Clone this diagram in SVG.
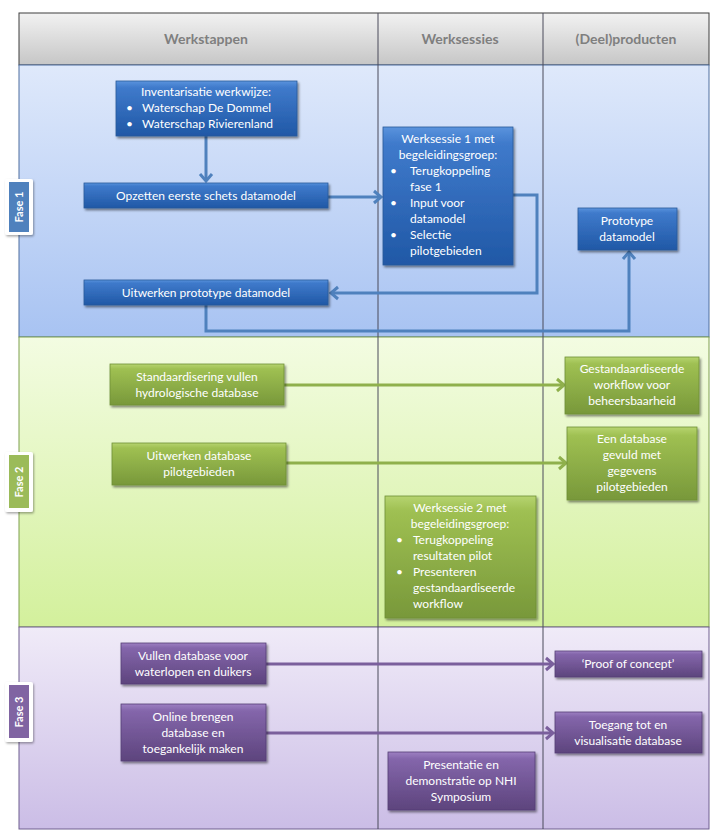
<svg xmlns="http://www.w3.org/2000/svg" width="720" height="839" viewBox="0 0 720 839">
<defs>
<linearGradient id="gHead" x1="0" y1="0" x2="0" y2="1"><stop offset="0" stop-color="#f2f2f2"/><stop offset="1" stop-color="#c6c6c6"/></linearGradient>
<linearGradient id="gP1" x1="0" y1="0" x2="0" y2="1"><stop offset="0" stop-color="#dfe9fb"/><stop offset="1" stop-color="#a8c3f2"/></linearGradient>
<linearGradient id="gP2" x1="0" y1="0" x2="0" y2="1"><stop offset="0" stop-color="#f3fce2"/><stop offset="1" stop-color="#d3f09c"/></linearGradient>
<linearGradient id="gP3" x1="0" y1="0" x2="0" y2="1"><stop offset="0" stop-color="#f0ebf8"/><stop offset="1" stop-color="#cbbde6"/></linearGradient>
<linearGradient id="gB" x1="0" y1="0" x2="0" y2="1"><stop offset="0" stop-color="#5a93dd"/><stop offset="0.12" stop-color="#3f7acb"/><stop offset="1" stop-color="#2058a6"/></linearGradient>
<linearGradient id="gG" x1="0" y1="0" x2="0" y2="1"><stop offset="0" stop-color="#b6d470"/><stop offset="0.12" stop-color="#9fc052"/><stop offset="1" stop-color="#78983a"/></linearGradient>
<linearGradient id="gV" x1="0" y1="0" x2="0" y2="1"><stop offset="0" stop-color="#9d80c2"/><stop offset="0.12" stop-color="#8466ab"/><stop offset="1" stop-color="#5d447d"/></linearGradient>
<filter id="sh" x="-10%" y="-10%" width="125%" height="135%"><feDropShadow dx="1.5" dy="2" stdDeviation="1.2" flood-color="#000" flood-opacity="0.45"/></filter>
<marker id="aB" markerUnits="userSpaceOnUse" markerWidth="14" markerHeight="16" refX="9" refY="8" orient="auto"><path d="M2,2 L9,8 L2,14" fill="none" stroke="#4f81bd" stroke-width="3"/></marker>
<marker id="aG" markerUnits="userSpaceOnUse" markerWidth="14" markerHeight="16" refX="9" refY="8" orient="auto"><path d="M2,2 L9,8 L2,14" fill="none" stroke="#8fb04c" stroke-width="3"/></marker>
<marker id="aV" markerUnits="userSpaceOnUse" markerWidth="14" markerHeight="16" refX="9" refY="8" orient="auto"><path d="M2,2 L9,8 L2,14" fill="none" stroke="#7a5f9c" stroke-width="3"/></marker>
<filter id="tsh" x="-20%" y="-10%" width="150%" height="130%"><feDropShadow dx="1" dy="1.5" stdDeviation="1" flood-color="#000" flood-opacity="0.35"/></filter>
</defs>
<style>
text{font-family:Lato,"Open Sans","Liberation Sans",sans-serif;font-size:12px;fill:#fff}
.c{text-anchor:middle}
.h{font-size:14px;font-weight:bold;fill:#7f7f7f;text-anchor:middle}
.f{font-size:11px;font-weight:bold;text-anchor:middle}
.blue{fill:url(#gB);stroke:#2a5a9a;stroke-width:0.8;filter:url(#sh)}
.green{fill:url(#gG);stroke:#6f8f36;stroke-width:0.8;filter:url(#sh)}
.violet{fill:url(#gV);stroke:#553f75;stroke-width:0.8;filter:url(#sh)}
.cb{fill:none;stroke:#4f81bd;stroke-width:3}
.cg{fill:none;stroke:#8fb04c;stroke-width:3}
.cv{fill:none;stroke:#7a5f9c;stroke-width:3}
.tag{fill:#fff;filter:url(#tsh)}
</style>

<g id="lanes">
<rect x="19" y="13" width="690" height="52" fill="url(#gHead)" stroke="#3f3f3f" stroke-width="1"/>
<rect x="19" y="65" width="690" height="272" fill="url(#gP1)" stroke="#4f6f9f" stroke-width="1"/>
<rect x="19" y="337" width="690" height="290" fill="url(#gP2)" stroke="#7f9f4f" stroke-width="1"/>
<rect x="19" y="627" width="690" height="202" fill="url(#gP3)" stroke="#6f5f8f" stroke-width="1"/>
<line x1="378" y1="13" x2="378" y2="829" stroke="#4a4a5a" stroke-width="1"/>
<line x1="543" y1="13" x2="543" y2="829" stroke="#4a4a5a" stroke-width="1"/>
<text class="h" x="206" y="44">Werkstappen</text>
<text class="h" x="460" y="44">Werksessies</text>
<text class="h" x="626" y="44">(Deel)producten</text>
</g>

<g id="fase1">
<rect class="tag" x="5" y="179" width="28" height="56" rx="2"/>
<rect x="9" y="182" width="20" height="50" fill="#4f81bd"/>
<text class="f" transform="translate(23,207) rotate(-90)">Fase 1</text>
</g>
<g id="fase2">
<rect class="tag" x="5" y="452" width="28" height="60" rx="2"/>
<rect x="9" y="455" width="20" height="53" fill="#9bbb59"/>
<text class="f" transform="translate(23,482) rotate(-90)">Fase 2</text>
</g>
<g id="fase3">
<rect class="tag" x="5" y="682" width="28" height="60" rx="2"/>
<rect x="9" y="685" width="20" height="53" fill="#8064a2"/>
<text class="f" transform="translate(23,712) rotate(-90)">Fase 3</text>
</g>

<g id="connectors">
<path class="cb" d="M206,136 V181" marker-end="url(#aB)"/>
<path class="cb" d="M328,197 H381" marker-end="url(#aB)"/>
<path class="cb" d="M513,195 H537 V293 H331" marker-end="url(#aB)"/>
<path class="cb" d="M206,305 V331 H629 V252" marker-end="url(#aB)"/>
<path class="cg" d="M284,385 H564" marker-end="url(#aG)"/>
<path class="cg" d="M286,463 H566" marker-end="url(#aG)"/>
<path class="cv" d="M266,664 H553" marker-end="url(#aV)"/>
<path class="cv" d="M266,733 H553" marker-end="url(#aV)"/>
</g>

<g id="inventarisatie">
<rect class="blue" x="116" y="81" width="181" height="55"/>
<text class="c" x="206" y="96">Inventarisatie werkwijze:</text>
<text x="126" y="112">•</text><text x="142" y="112">Waterschap De Dommel</text>
<text x="126" y="128">•</text><text x="142" y="128">Waterschap Rivierenland</text>
</g>
<g id="opzetten">
<rect class="blue" x="84" y="183" width="244" height="25"/>
<text class="c" x="206" y="200">Opzetten  eerste  schets datamodel</text>
</g>
<g id="uitwerken-prototype">
<rect class="blue" x="84" y="280" width="244" height="25"/>
<text class="c" x="206" y="297">Uitwerken  prototype  datamodel</text>
</g>
<g id="werksessie1">
<rect class="blue" x="383" y="127" width="130" height="138"/>
<text class="c" x="448" y="143">Werksessie 1 met</text>
<text class="c" x="448" y="159">begeleidingsgroep:</text>
<text x="390" y="175">•</text><text x="410" y="175">Terugkoppeling</text>
<text x="410" y="191">fase 1</text>
<text x="390" y="207">•</text><text x="410" y="207">Input voor</text>
<text x="410" y="223">datamodel</text>
<text x="390" y="239">•</text><text x="410" y="239">Selectie</text>
<text x="410" y="255">pilotgebieden</text>
</g>
<g id="prototype">
<rect class="blue" x="578" y="208" width="99" height="42"/>
<text class="c" x="627" y="225">Prototype</text>
<text class="c" x="627" y="241">datamodel</text>
</g>

<g id="standaardisering">
<rect class="green" x="110" y="364" width="174" height="41"/>
<text class="c" x="197" y="381">Standaardisering vullen</text>
<text class="c" x="197" y="397">hydrologische database</text>
</g>
<g id="gestandaardiseerde">
<rect class="green" x="565" y="357" width="134" height="57"/>
<text class="c" x="632" y="373">Gestandaardiseerde</text>
<text class="c" x="632" y="389">workflow voor</text>
<text class="c" x="632" y="405">beheersbaarheid</text>
</g>
<g id="uitwerken-database">
<rect class="green" x="112" y="443" width="174" height="42"/>
<text class="c" x="199" y="460">Uitwerken database</text>
<text class="c" x="199" y="476">pilotgebieden</text>
</g>
<g id="een-database">
<rect class="green" x="567" y="427" width="130" height="73"/>
<text class="c" x="632" y="443">Een database</text>
<text class="c" x="632" y="459">gevuld met</text>
<text class="c" x="632" y="475">gegevens</text>
<text class="c" x="632" y="491">pilotgebieden</text>
</g>
<g id="werksessie2">
<rect class="green" x="385" y="496" width="151" height="122"/>
<text class="c" x="460" y="512">Werksessie 2 met</text>
<text class="c" x="460" y="528">begeleidingsgroep:</text>
<text x="396" y="544">•</text><text x="413" y="544">Terugkoppeling</text>
<text x="413" y="560">resultaten pilot</text>
<text x="396" y="576">•</text><text x="413" y="576">Presenteren</text>
<text x="413" y="592">gestandaardiseerde</text>
<text x="413" y="608">workflow</text>
</g>

<g id="vullen">
<rect class="violet" x="121" y="643" width="145" height="41"/>
<text class="c" x="193" y="660">Vullen database voor</text>
<text class="c" x="193" y="676">waterlopen en duikers</text>
</g>
<g id="proof">
<rect class="violet" x="555" y="651" width="147" height="26"/>
<text class="c" x="628" y="668">‘Proof of concept’</text>
</g>
<g id="online">
<rect class="violet" x="121" y="704" width="145" height="57"/>
<text class="c" x="193" y="721">Online brengen</text>
<text class="c" x="193" y="737">database en</text>
<text class="c" x="193" y="753">toegankelijk maken</text>
</g>
<g id="toegang">
<rect class="violet" x="555" y="712" width="147" height="41"/>
<text class="c" x="628" y="729">Toegang tot en</text>
<text class="c" x="628" y="745">visualisatie database</text>
</g>
<g id="presentatie">
<rect class="violet" x="388" y="752" width="147" height="58"/>
<text class="c" x="461" y="769">Presentatie en</text>
<text class="c" x="461" y="785">demonstratie op NHI</text>
<text class="c" x="461" y="801">Symposium</text>
</g>
</svg>
